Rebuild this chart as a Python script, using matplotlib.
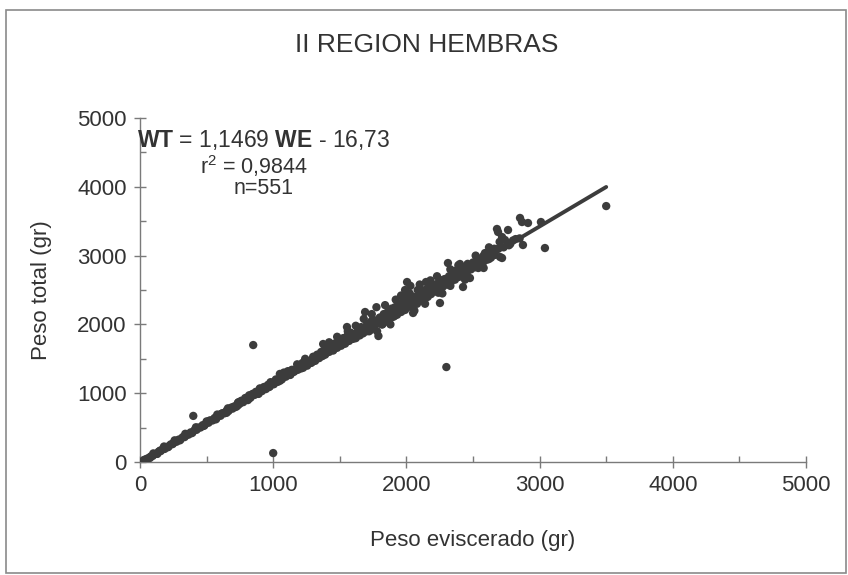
import matplotlib
matplotlib.use("Agg")
import matplotlib.pyplot as plt
from matplotlib.patches import Rectangle
import numpy as np

plt.rcParams["font.family"] = ["Liberation Sans", "DejaVu Sans"]
plt.rcParams["mathtext.fontset"] = "custom"
plt.rcParams["mathtext.rm"] = "Liberation Sans"
plt.rcParams["mathtext.bf"] = "Liberation Sans:bold"

# Peso eviscerado (WE) and peso total (WT), grams
peso_eviscerado = [
    15, 25, 30, 35, 45, 55, 65, 75, 80, 95, 110, 125, 140, 150, 155, 170, 185, 200,
    215, 230, 245, 250, 260, 275, 290, 305, 320, 335, 340, 350, 365, 380, 395, 410,
    425, 430, 440, 455, 470, 485, 500, 515, 520, 530, 545, 560, 575, 590, 605, 610,
    620, 635, 650, 665, 680, 690, 695,
    710, 720, 735, 740, 750, 760, 775, 790, 800, 815, 820, 830, 845, 860, 870, 885,
    900, 915, 930, 945, 950, 960, 975, 990, 1005, 1020, 1035, 1050, 1060, 1065,
    1080, 1095, 1100, 1110, 1125, 1130, 1140, 1155, 1160, 1170, 1185, 1195, 1200,
    1210, 1225, 1240, 1255, 1260, 1270, 1285, 1300, 1315, 1330, 1345, 1350, 1360,
    1375, 1390, 1400, 1405, 1420, 1435, 1445, 1450, 1465, 1480, 1495, 1500, 1510,
    1525, 1530, 1540, 1554, 1555, 1560, 1570, 1585, 1590, 1600,
    1610, 1620, 1635, 1650, 1650, 1660, 1675, 1690, 1700, 1700, 1715, 1730, 1745,
    1760, 1760, 1775, 1790, 1800, 1800, 1815, 1830, 1845, 1850, 1860, 1875, 1880,
    1890, 1900, 1915, 1920, 1930, 1945, 1950, 1960, 1975, 1980, 1990, 2000, 2000,
    2005, 2010, 2020, 2025, 2040, 2040, 2050, 2055, 2060, 2070, 2085, 2090, 2100,
    2110, 2125, 2130, 2140, 2147, 2155, 2170, 2180, 2185, 2200, 2215, 2220, 2230,
    2245, 2252, 2260, 2270, 2275, 2290, 2300, 2305, 2312, 2320, 2335, 2350, 2360,
    2365, 2380, 2395, 2402, 2410, 2420, 2425, 2440, 2450, 2455, 2470, 2477, 2485,
    2500, 2510, 2515, 2530, 2545, 2550, 2560, 2575, 2590, 2600, 2605, 2620, 2635,
    2640, 2650, 2665, 2680, 2688, 2690,
    2703, 2718, 2718, 2730, 2740, 2763, 2770, 2780, 2800, 2820, 2850, 2853, 2868,
    2875, 2913, 3010, 3040, 3500,
    400, 850, 1000, 2300,
    1580, 1640, 1720, 1740, 1820, 1870, 1910, 1940, 1970, 2030, 2080, 2120, 2160,
    2190, 2240, 2280, 2330, 2370, 2430, 2460, 2540, 2580, 2620, 2660,
    100, 180, 260, 340, 420, 500, 580, 660, 740, 820, 900, 980, 1060, 1140, 1220,
    1300, 1380, 1460,
    130, 210, 300, 390, 480, 570, 650, 730, 810, 890, 970, 1050, 1130, 1210, 1290,
    1370, 1450, 1530, 1620, 1700,
    1620, 1680, 1740, 1780, 1840, 1880, 1920, 1960, 1990, 2030, 2060, 2100, 2140,
    2180, 2230, 2270, 2330, 2390, 2440, 2520, 2580, 2620, 2700, 1420, 1480, 1560,
    1180, 1240,
]
peso_total = [
    5, 15, 30, 20, 40, 50, 55, 60, 80, 88, 115, 120, 150, 165, 158, 185, 190, 220,
    225, 255, 260, 275, 290, 295, 325, 330, 360, 362, 385, 395, 398, 430, 432, 465,
    468, 490, 500, 502, 535, 536, 570, 571, 600, 605, 604, 640, 638, 675, 672, 700,
    710, 708, 745, 742, 780, 795, 776,
    810, 800, 860, 835, 850, 890, 870, 930, 905, 950, 925, 935, 990, 975, 1020, 995,
    1060, 1030, 1090, 1060, 1080, 1120, 1100, 1150, 1130, 1200, 1165, 1280, 1250, 1200,
    1300, 1240, 1290, 1320, 1265, 1310, 1330, 1310, 1320, 1350, 1340, 1365, 1380,
    1390, 1370, 1420, 1400, 1430, 1460, 1440, 1500, 1470, 1560, 1510, 1530, 1600,
    1715, 1560, 1590, 1640, 1600, 1690, 1660, 1620, 1720, 1660, 1760, 1720, 1690,
    1800, 1760, 1720, 1962, 1830, 1790, 1760, 1870, 1820, 1790,
    1860, 1800, 1900, 1840, 1920, 1960, 1870, 2180, 1900, 1980, 2010, 1920, 2060,
    1950, 2060, 2250, 1831, 2100, 2020, 2000, 2150, 2040, 2120, 2180, 2080, 2180,
    2230, 2110, 2250, 2200, 2140, 2300, 2230, 2180, 2330, 2280, 2210, 2400, 2340,
    2616, 2250, 2320, 2450, 2270, 2380, 2166, 2400, 2380, 2310, 2500, 2420, 2350,
    2450, 2380, 2440, 2500, 2616, 2420, 2530, 2500, 2440, 2560, 2480, 2540, 2590,
    2520, 2311, 2640, 2600, 2550, 2660, 2640, 2580, 2892, 2700, 2620, 2720, 2700,
    2650, 2760, 2690, 2878, 2790, 2760, 2544, 2820, 2800, 2760, 2860, 2674, 2800,
    2900, 2870, 2830, 2930, 2870, 2910, 2960, 2900, 3037, 2980, 2940, 3040, 2970,
    3010, 3080, 3010, 3387, 3343, 3100,
    2980, 3270, 2965, 3120, 3227, 3372, 3150, 3170, 3220, 3240, 3250, 3547, 3488,
    3154, 3474, 3488, 3110, 3720,
    670, 1700, 130, 1380,
    1880, 1950, 1900, 2050, 2000, 2190, 2120, 2280, 2200, 2400, 2300, 2480, 2400,
    2560, 2460, 2650, 2560, 2780, 2700, 2880, 2820, 3000, 2950, 3100,
    125, 225, 315, 410, 505, 590, 690, 780, 870, 970, 1070, 1160, 1260, 1340, 1440,
    1530, 1620, 1720,
    118, 215, 315, 420, 525, 620, 715, 815, 900, 990, 1090, 1180, 1270, 1360, 1450,
    1540, 1630, 1720, 1820, 1910,
    1980, 2080, 2150, 1900, 2280, 2000, 2360, 2420, 2500, 2560, 2200, 2580, 2300,
    2640, 2700, 2450, 2800, 2860, 2650, 3000, 2820, 3120, 3200, 1740, 1820, 1900,
    1420, 1500,
]

# Linear fit reported on the chart: WT = 1,1469 WE - 16,73
pendiente = 1.1469
intercepto = -16.73

x_ticks = [0, 1000, 2000, 3000, 4000, 5000]
y_ticks = [0, 1000, 2000, 3000, 4000, 5000]

ink = "#3c3c3c"
axis_col = "#7a7a7a"
text_col = "#333333"

fig = plt.figure(figsize=(8.48, 5.75), dpi=100)
fig.patch.set_facecolor("white")
fig.add_artist(Rectangle((6 / 848, 2 / 575), 840 / 848, 563 / 575,
                         transform=fig.transFigure, fill=False,
                         edgecolor="#8a8a8a", linewidth=1.2))

ax = fig.add_axes([140 / 848, 113 / 575, 666 / 848, 344 / 575])

ax.scatter(peso_eviscerado, peso_total, s=36, color=ink, edgecolors="none", zorder=3)

we = np.asarray(peso_eviscerado, dtype=float)
x_fit = np.array([we.min(), we.max()])
ax.plot(x_fit, pendiente * x_fit + intercepto, color=ink, linewidth=2.8,
        solid_capstyle="round", zorder=4)

ax.set_xlim(0, 5000)
ax.set_ylim(0, 5000)
ax.set_xticks(x_ticks)
ax.set_yticks(y_ticks)
ax.set_xticks(np.arange(500, 5000, 1000), minor=True)
ax.set_yticks(np.arange(500, 5000, 1000), minor=True)
ax.tick_params(which="major", direction="inout", length=9, width=1, color=axis_col,
               labelsize=16, labelcolor=text_col, pad=5)
ax.tick_params(which="minor", direction="in", length=4, width=1, color=axis_col)

for side in ("top", "right"):
    ax.spines[side].set_visible(False)
for side in ("left", "bottom"):
    ax.spines[side].set_color(axis_col)
    ax.spines[side].set_linewidth(1)

ax.set_xlabel("Peso eviscerado (gr)", fontsize=16, color=text_col, labelpad=24)
ax.set_ylabel("Peso total (gr)", fontsize=16, color=text_col, labelpad=18)

fig.text(0.503, 1 - 45 / 575, "II REGION HEMBRAS", ha="center", va="center",
         fontsize=19, color=text_col)

ax.text(-20, 4680, r"$\bf{WT}$ = 1,1469 $\bf{WE}$ - 16,73", fontsize=16.5,
        color=text_col, ha="left", va="center")
ax.text(856, 4300, r"r$^2$ = 0,9844", fontsize=15.5, color=text_col,
        ha="center", va="center")
ax.text(925, 3980, "n=551", fontsize=15.5, color=text_col, ha="center", va="center")

fig.savefig("out.png", dpi=100, facecolor="white")
